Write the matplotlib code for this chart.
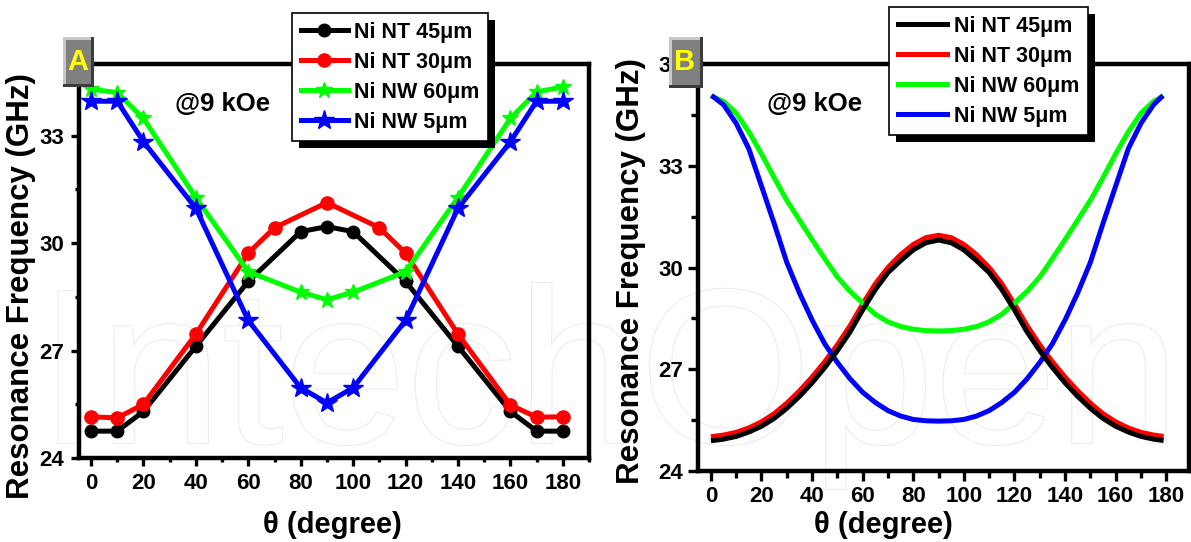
import matplotlib
matplotlib.use('Agg')
import matplotlib.pyplot as plt
import matplotlib.patheffects as pe
from matplotlib.patches import Rectangle
from matplotlib.ticker import MultipleLocator
from matplotlib.transforms import IdentityTransform

# ---- panel A: measured resonance frequency vs angle ----
theta_a = [0, 10, 20, 40, 60, 80, 90, 100, 120, 140, 160, 170, 180]
theta_a_nt30 = [0, 10, 20, 40, 60, 70, 90, 110, 120, 140, 160, 170, 180]
nt45_a = [24.75, 24.75, 25.30, 27.12, 28.93, 30.32, 30.46, 30.32, 28.93, 27.12, 25.30, 24.75, 24.75]
nt30_a = [25.15, 25.12, 25.50, 27.46, 29.72, 30.43, 31.13, 30.43, 29.72, 27.46, 25.48, 25.14, 25.15]
nw60_a = [34.30, 34.20, 33.48, 31.27, 29.20, 28.63, 28.42, 28.63, 29.20, 31.27, 33.48, 34.22, 34.36]
nw5_a = [33.96, 33.96, 32.83, 30.97, 27.84, 25.96, 25.54, 25.96, 27.84, 30.97, 32.83, 33.96, 33.96]

# ---- panel B: calculated curves ----
theta_b = [1, 5, 10, 15, 20, 25, 30, 35, 40, 45, 50, 55, 60, 65, 70, 75, 80, 85, 90,
           95, 100, 105, 110, 115, 120, 125, 130, 135, 140, 145, 150, 155, 160, 165,
           170, 175, 178]
nt45_b = [24.90, 24.94, 25.02, 25.15, 25.32, 25.55, 25.85, 26.20, 26.60, 27.05, 27.55,
          28.10, 28.75, 29.35, 29.85, 30.20, 30.52, 30.73, 30.81, 30.73, 30.52, 30.20,
          29.85, 29.35, 28.75, 28.10, 27.55, 27.05, 26.60, 26.20, 25.85, 25.55, 25.32,
          25.15, 25.02, 24.94, 24.91]
nt30_b = [25.02, 25.06, 25.14, 25.27, 25.45, 25.69, 26.00, 26.36, 26.77, 27.22, 27.72,
          28.28, 28.92, 29.52, 30.00, 30.38, 30.68, 30.88, 30.95, 30.88, 30.68, 30.38,
          30.00, 29.52, 28.92, 28.28, 27.72, 27.22, 26.77, 26.36, 26.00, 25.69, 25.45,
          25.27, 25.14, 25.06, 25.03]
nw60_b = [35.03, 34.90, 34.55, 34.00, 33.35, 32.65, 31.98, 31.40, 30.82, 30.26, 29.72,
          29.30, 28.95, 28.62, 28.40, 28.26, 28.18, 28.14, 28.13, 28.14, 28.18, 28.26,
          28.40, 28.62, 28.95, 29.30, 29.72, 30.26, 30.82, 31.40, 31.98, 32.65, 33.35,
          34.00, 34.55, 34.90, 35.02]
nw5_b = [35.03, 34.80, 34.25, 33.50, 32.40, 31.30, 30.15, 29.25, 28.45, 27.75, 27.20,
         26.72, 26.32, 26.02, 25.78, 25.62, 25.52, 25.48, 25.47, 25.48, 25.52, 25.62,
         25.78, 26.02, 26.32, 26.72, 27.20, 27.75, 28.45, 29.25, 30.15, 31.30, 32.40,
         33.50, 34.25, 34.80, 35.02]

labels = ['Ni NT 45\u03bcm', 'Ni NT 30\u03bcm', 'Ni NW 60\u03bcm', 'Ni NW 5\u03bcm']
GREEN = '#00ff00'

plt.rcParams['font.family'] = ['Liberation Sans Narrow', 'Liberation Sans', 'DejaVu Sans']
plt.rcParams['font.weight'] = 'bold'
SANS = ['Liberation Sans', 'DejaVu Sans']

W, H = 1191, 542
fig = plt.figure(figsize=(W / 100, H / 100), dpi=100)


def px(x, y):
    return x / W, 1 - y / H


def axes_px(l, t, r, b):
    return fig.add_axes([l / W, 1 - b / H, (r - l) / W, (b - t) / H])


# faint watermark behind both panels
fig.text(*px(38, 443), 'IntechOpen', fontsize=159, color='white', family=SANS,
         fontweight='normal', ha='left', va='baseline', zorder=-1,
         path_effects=[pe.withStroke(linewidth=1.5, foreground='#ececec')])

ax1 = axes_px(79, 64, 589, 458)
ax2 = axes_px(698, 64, 1189, 471)


def style(ax, major_len, minor_len, pad):
    ax.set_facecolor('none')
    for s in ax.spines.values():
        s.set_linewidth(3.2)
    ax.xaxis.set_major_locator(MultipleLocator(20))
    ax.xaxis.set_minor_locator(MultipleLocator(10))
    ax.yaxis.set_major_locator(MultipleLocator(3))
    ax.yaxis.set_minor_locator(MultipleLocator(1.5))
    ax.tick_params(which='major', direction='out', length=major_len, width=2.4,
                   labelsize=16, pad=pad)
    ax.tick_params(which='minor', direction='out', length=minor_len, width=2.4)


style(ax1, 6, 3.2, 4.5)
style(ax2, 7.5, 5, 3.5)

# panel A
ax1.plot(theta_a, nt45_a, color='black', lw=3.6, marker='o', ms=9, label=labels[0])
ax1.plot(theta_a_nt30, nt30_a, color='red', lw=3.6, marker='o', ms=9.5, label=labels[1])
ax1.plot(theta_a, nw60_a, color=GREEN, lw=3.6, marker='*', ms=12, label=labels[2])
ax1.plot(theta_a, nw5_a, color='blue', lw=3.6, marker='*', ms=15, label=labels[3])
ax1.set_xlim(-4.6, 190)
ax1.set_ylim(24, 35)

# panel B
ax2.plot(theta_b, nt30_b, color='red', lw=3.6, label=labels[1])
ax2.plot(theta_b, nw60_b, color=GREEN, lw=3.6, label=labels[2])
ax2.plot(theta_b, nw5_b, color='blue', lw=3.6, label=labels[3])
ax2.plot(theta_b, nt45_b, color='black', lw=3.6, label=labels[0])
ax2.set_xlim(-5.1, 189)
ax2.set_ylim(24, 36)

legend_font = dict(family=SANS, weight='bold', size=15.5)


def add_legend(ax, x, y, order, hlen):
    h, l = ax.get_legend_handles_labels()
    h = [h[l.index(lab)] for lab in order]
    leg = ax.legend(h, order, loc='upper left', bbox_to_anchor=px(x, y),
                    bbox_transform=fig.transFigure, fancybox=False, framealpha=1,
                    edgecolor='black', prop=legend_font, handlelength=hlen,
                    handletextpad=0.3, labelspacing=0.42, borderpad=0.4,
                    borderaxespad=0)
    leg.get_frame().set_linewidth(1.2)
    return leg


leg1 = add_legend(ax1, 292, 13, labels, 2.2)
leg2 = add_legend(ax2, 889, 7, labels, 2.3)

for cx, cy in [(21, 286), (631, 271)]:
    fig.text(*px(cx, cy), 'Resonance Frequency (GHz)', rotation=90, ha='center',
             va='center', family=SANS, fontsize=22.5, fontweight='bold')
for cx in (332, 883):
    fig.text(*px(cx, 525), '\u03b8 (degree)', ha='center', va='center',
             family=SANS, fontsize=21, fontweight='bold')
for cx in (223, 815):
    fig.text(*px(cx, 104), '@9 kOe', ha='center', va='center', family=SANS,
             fontsize=18.5, fontweight='bold')


# panel tags with bevelled grey boxes
def tag(letter, l, t, r, b):
    def rect(x0, y0, x1, y1, c):
        fig.add_artist(Rectangle(px(x0, y1), (x1 - x0) / W, (y1 - y0) / H,
                                 transform=fig.transFigure, facecolor=c,
                                 edgecolor='none', zorder=6))
    rect(l, t, r, b, '#3c3c3c')
    rect(l, t, r - 3, b - 3, '#c8c8c8')
    rect(l + 3, t + 3, r - 3, b - 3, '#808080')
    fig.text(*px((l + r) / 2 - 1, (t + b) / 2), letter, ha='center', va='center',
             color='#ffff00', family=SANS, fontsize=21, fontweight='bold', zorder=7)


tag('A', 63, 37, 94, 87)
tag('B', 669, 37, 703, 88)

# solid black drop shadow under each legend box
fig.canvas.draw()
for ax, leg in [(ax1, leg1), (ax2, leg2)]:
    bb = leg.get_window_extent()
    ax.add_patch(Rectangle((bb.x0 + 7, bb.y0 - 7), bb.width, bb.height,
                           transform=IdentityTransform(), facecolor='black',
                           edgecolor='none', zorder=4.9, clip_on=False))

fig.savefig('out.png', dpi=100)
